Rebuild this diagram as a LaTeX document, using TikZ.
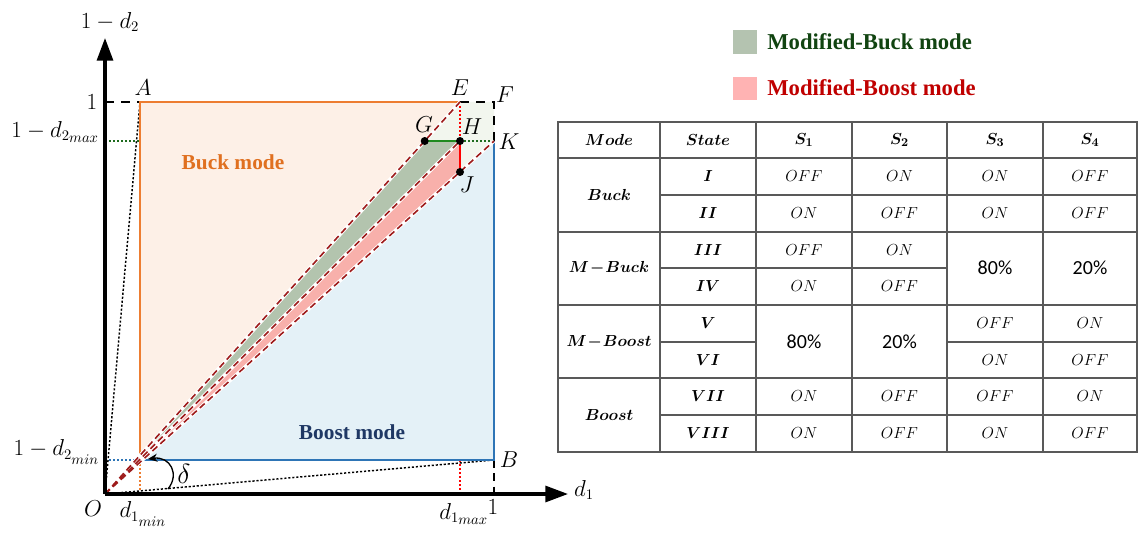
\documentclass[tikz,border=0pt]{standalone}
\usepackage{amsmath}
\usepackage{fontspec}
\newfontfamily\tnr{Liberation Serif}
\newfontfamily\calib{Carlito}
\usetikzlibrary{arrows.meta}
\definecolor{orangeL}{HTML}{ED7D31}
\definecolor{orangeT}{HTML}{E07020}
\definecolor{blueL}{HTML}{2E75B6}
\definecolor{navyT}{HTML}{1F3864}
\definecolor{orangeF}{HTML}{FDF0E7}
\definecolor{blueF}{HTML}{E4F1F7}
\definecolor{greenB}{HTML}{B3C4AE}
\definecolor{redB}{HTML}{F8B0AB}
\definecolor{paleG}{HTML}{F2F6EE}
\definecolor{dred}{HTML}{9E1B1B}
\definecolor{dgreen}{HTML}{1E6B1E}
\definecolor{ghl}{HTML}{1F8A1F}
\definecolor{legG}{HTML}{B4C3B0}
\definecolor{legR}{HTML}{FFB3B3}
\definecolor{legGT}{HTML}{114411}
\definecolor{legRT}{HTML}{C00000}
\definecolor{tline}{HTML}{595959}
\tikzset{
  mlbl/.style={font=\fontsize{16}{18}\selectfont, inner sep=1pt},
  modelbl/.style={font=\tnr\bfseries\fontsize{16}{18}\selectfont},
  leglbl/.style={font=\tnr\bfseries\fontsize{17}{19}\selectfont, anchor=west, inner sep=0pt},
  tc/.style={font=\fontsize{12.5}{14}\selectfont, inner sep=1pt},
  pc/.style={font=\calib\fontsize{15}{17}\selectfont, inner sep=1pt},
  diag/.style={dred, line width=1.2pt, dash pattern=on 5pt off 3pt},
  halo/.style={white, line width=2.6pt},
  dotl/.style={line width=1.1pt, dash pattern=on 1.6pt off 1.4pt},
  axis/.style={line width=2.3pt, -{Triangle[length=17pt,width=12pt]}},
  tl/.style={tline, line width=0.9pt}
}
\begin{document}
\begin{tikzpicture}[x=0.75pt,y=-0.75pt]
\useasboundingbox (0,0) rectangle (1139,535);
\fill[white] (0,0) rectangle (1139,535);

% key points
\coordinate (O) at (105,494);
\coordinate (A) at (140,102);
\coordinate (E) at (460,102);
\coordinate (F) at (494,102);
\coordinate (K) at (494,141);
\coordinate (B) at (494,460);
\coordinate (H) at (460,141);
\coordinate (J) at (460,172);
\coordinate (G) at (424.7,141);
\coordinate (C) at (140,460);
\coordinate (Y1) at (105,102);
\coordinate (Ymax) at (105,141);
\coordinate (Ymin) at (105,460);
\coordinate (Xmin) at (140,494);
\coordinate (Xmax) at (460,494);
\coordinate (Xmaxt) at (460,460);
\coordinate (X1) at (494,498);
\coordinate (Amax) at (140,141);
\coordinate (Yend) at (105,38);
\coordinate (Xend) at (568,494);
\coordinate (Aarc) at (168,489);
\coordinate (Barc) at (148,459);

% fills
\begin{scope}
\clip (140,102) rectangle (494,460);
\fill[orangeF] (O) -- (105,102) -- (E) -- cycle;
\fill[blueF] (O) -- (K) -- (B) -- cycle;
\fill[greenB] (O) -- (G) -- (H) -- cycle;
\fill[redB] (O) -- (H) -- (J) -- cycle;
\end{scope}
\fill[paleG] (G) -- (E) -- (F) -- (K) -- (J) -- (H) -- cycle;

% dotted guide lines from origin
\draw[dotl] (O) -- (A);
\draw[dotl] (O) -- (B);

% level guides
\draw[dgreen, dotl] (Ymax) -- (Amax);
\draw[dgreen, dotl] (H) -- (K);
\draw[blueL, dotl] (Ymin) -- (C);
\draw[orangeL, dotl] (C) -- (Xmin);
\draw[red, dotl] (Xmaxt) -- (Xmax);
\draw[red, dotl] (E) -- (H);
\draw[line width=1.3pt, dash pattern=on 7pt off 5pt] (Y1) -- (A);
\draw[line width=1.3pt, dash pattern=on 7pt off 5pt] (E) -- (F) -- (K);
\draw[line width=1.1pt, dash pattern=on 6pt off 4pt] (B) -- (X1);

% region boundaries
\draw[orangeL, line width=1.6pt] (C) -- (A) -- (E);
\draw[blueL, line width=1.6pt] (C) -- (B) -- (K);

% diagonals
\draw[halo] (O) -- (E);
\draw[halo] (O) -- (H);
\draw[halo] (O) -- (K);
\draw[diag] (O) -- (E);
\draw[diag] (O) -- (H);
\draw[diag] (O) -- (K);

% axes
\draw[axis] (O) -- (Yend);
\draw[axis] (O) -- (Xend);

% G-H-J
\draw[ghl, line width=2.2pt] (G) -- (H);
\draw[red, line width=2.2pt] (H) -- (J);
\fill (G) circle (4);
\fill (H) circle (4);
\fill (J) circle (4);

% delta arc
\draw[line width=1pt, -{Stealth[length=7pt,width=6pt]}] (Aarc) .. controls (180,474) and (170,456) .. (Barc);

% labels
\node[mlbl] (ly) at (110,22) {$1-d_2$};
\node[mlbl] (l1y) at (92,102) {$1$};
\node[mlbl, anchor=east] (lmax) at (101,132) {$1-d_{2_{\scriptstyle max}}$};
\node[mlbl, anchor=east] (lmin) at (101,452) {$1-d_{2_{\scriptstyle min}}$};
\node[mlbl] (lO) at (93,509) {$O$};
\node[mlbl] (ldmin) at (143,514) {$d_{1_{\scriptstyle min}}$};
\node[mlbl] (ldmax) at (464,514) {$d_{1_{\scriptstyle max}}$};
\node[mlbl] (l1x) at (493,507) {$1$};
\node[mlbl] (lx) at (584,490) {$d_1$};
\node[mlbl] (lA) at (143,88) {$A$};
\node[mlbl] (lE) at (460,88) {$E$};
\node[mlbl] (lF) at (505,95) {$F$};
\node[mlbl] (lG) at (424,125) {$G$};
\node[mlbl] (lH) at (472,127) {$H$};
\node[mlbl] (lJ) at (467,185) {$J$};
\node[mlbl] (lK) at (509,142) {$K$};
\node[mlbl] (lB) at (509,460) {$B$};
\node[mlbl, font=\fontsize{20}{22}\selectfont] (ld) at (184,474) {$\delta$};
\node[modelbl, text=orangeT] (buck) at (233,162) {Buck mode};
\node[modelbl, text=navyT] (boost) at (352,432) {Boost mode};

% legend
\fill[legG] (733,30) rectangle (757,54);
\fill[legR] (733,77) rectangle (757,100);
\node[leglbl, text=legGT] (lg1) at (767,42) {Modified-Buck mode};
\node[leglbl, text=legRT] (lg2) at (767,88) {Modified-Boost mode};

% table grid
\draw[tl] (558,122) rectangle (1137,452);
\foreach \x in {660,756,852,947,1043} \draw[tl] (\x,122) -- (\x,452);
\foreach \y in {158,232,305,378} \draw[tl] (558,\y) -- (1137,\y);
\draw[tl] (660,195) -- (1137,195);
\draw[tl] (660,268) -- (947,268);
\draw[tl] (660,342) -- (756,342);
\draw[tl] (947,342) -- (1137,342);
\draw[tl] (660,415) -- (1137,415);

% header
\node[tc] (h1) at (609,140) {$\boldsymbol{Mode}$};
\node[tc] (h2) at (708,140) {$\boldsymbol{State}$};
\node[tc] (h3) at (804,140) {$\boldsymbol{S_1}$};
\node[tc] (h4) at (899.5,140) {$\boldsymbol{S_2}$};
\node[tc] (h5) at (995,140) {$\boldsymbol{S_3}$};
\node[tc] (h6) at (1090,140) {$\boldsymbol{S_4}$};

% modes
\node[tc] (m1) at (609,195) {$\boldsymbol{Buck}$};
\node[tc] (m2) at (609,268) {$\boldsymbol{M\!-\!Buck}$};
\node[tc] (m3) at (609,342) {$\boldsymbol{M\!-\!Boost}$};
\node[tc] (m4) at (609,415) {$\boldsymbol{Boost}$};

% states
\node[tc] (s1) at (708,176.5) {$\boldsymbol{I}$};
\node[tc] (s2) at (708,213.5) {$\boldsymbol{II}$};
\node[tc] (s3) at (708,250) {$\boldsymbol{III}$};
\node[tc] (s4) at (708,286.5) {$\boldsymbol{IV}$};
\node[tc] (s5) at (708,323.5) {$\boldsymbol{V}$};
\node[tc] (s6) at (708,360) {$\boldsymbol{VI}$};
\node[tc] (s7) at (708,396.5) {$\boldsymbol{VII}$};
\node[tc] (s8) at (708,433.5) {$\boldsymbol{VIII}$};

% row I
\node[tc] (c11) at (804,176.5) {$OFF$};
\node[tc] (c12) at (899.5,176.5) {$ON$};
\node[tc] (c13) at (995,176.5) {$ON$};
\node[tc] (c14) at (1090,176.5) {$OFF$};
% row II
\node[tc] (c21) at (804,213.5) {$ON$};
\node[tc] (c22) at (899.5,213.5) {$OFF$};
\node[tc] (c23) at (995,213.5) {$ON$};
\node[tc] (c24) at (1090,213.5) {$OFF$};
% row III / IV
\node[tc] (c31) at (804,250) {$OFF$};
\node[tc] (c32) at (899.5,250) {$ON$};
\node[tc] (c41) at (804,286.5) {$ON$};
\node[tc] (c42) at (899.5,286.5) {$OFF$};
\node[pc] (c33) at (995,268) {80\%};
\node[pc] (c34) at (1090,268) {20\%};
% row V / VI
\node[pc] (c51) at (804,342) {80\%};
\node[pc] (c52) at (899.5,342) {20\%};
\node[tc] (c53) at (995,323.5) {$OFF$};
\node[tc] (c54) at (1090,323.5) {$ON$};
\node[tc] (c63) at (995,360) {$ON$};
\node[tc] (c64) at (1090,360) {$OFF$};
% row VII
\node[tc] (c71) at (804,396.5) {$ON$};
\node[tc] (c72) at (899.5,396.5) {$OFF$};
\node[tc] (c73) at (995,396.5) {$OFF$};
\node[tc] (c74) at (1090,396.5) {$ON$};
% row VIII
\node[tc] (c81) at (804,433.5) {$ON$};
\node[tc] (c82) at (899.5,433.5) {$OFF$};
\node[tc] (c83) at (995,433.5) {$ON$};
\node[tc] (c84) at (1090,433.5) {$OFF$};
\end{tikzpicture}
\end{document}
